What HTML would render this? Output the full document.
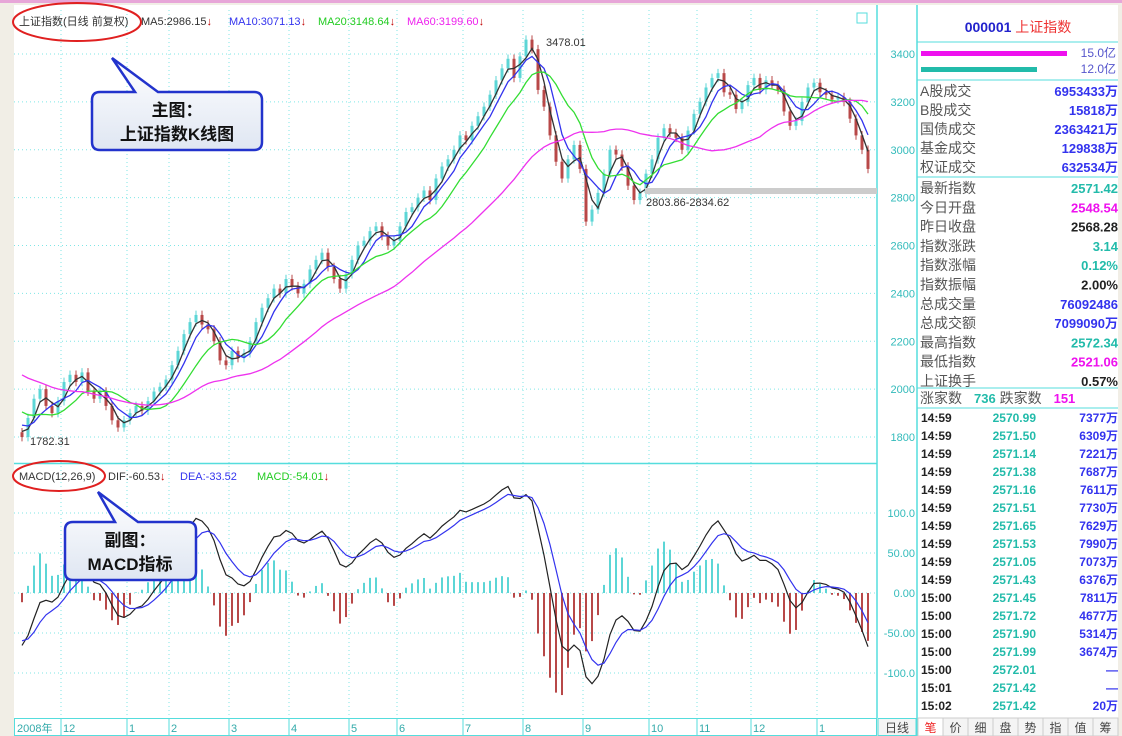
<!DOCTYPE html>
<html><head><meta charset="utf-8">
<style>
body{margin:0;background:#f1eee6;width:1122px;height:736px;overflow:hidden;font-family:"Liberation Sans","Noto Sans CJK SC",sans-serif}
svg{position:absolute;left:0;top:0}
text{font-family:"Liberation Sans","Noto Sans CJK SC",sans-serif}
</style></head>
<body>
<svg id="chart" width="1122" height="736" viewBox="0 0 1122 736">
<defs>
<linearGradient id="cg" x1="0" y1="0" x2="0" y2="1"><stop offset="0" stop-color="#ffffff"/><stop offset="1" stop-color="#dfe6f2"/></linearGradient>
<clipPath id="cpMain"><rect x="14" y="10" width="863" height="453"/></clipPath>
<clipPath id="cpMacd"><rect x="14" y="464" width="863" height="252"/></clipPath>
</defs>
<rect x="0" y="0" width="1122" height="3" fill="#e7a6d8"/>
<rect x="14" y="5" width="1104" height="713" fill="#ffffff"/>
<rect x="14.5" y="718.5" width="862" height="17" fill="#ffffff" stroke="#55dddd"/>
<rect x="878" y="718.5" width="38" height="17" fill="#f4f4f4" stroke="#55dddd"/>
<g id="grid"></g>
<g id="main" clip-path="url(#cpMain)"></g>
<g id="macd" clip-path="url(#cpMacd)"></g>
<g id="axes"></g>
<line x1="877" y1="5" x2="877" y2="718" stroke="#55dddd" stroke-width="1.5"/>
<line x1="917" y1="5" x2="917" y2="736" stroke="#55dddd" stroke-width="1.5"/>
<line x1="14" y1="463.5" x2="877" y2="463.5" stroke="#55dddd" stroke-width="1.5"/>
<text x="897" y="732" font-size="12" fill="#444" text-anchor="middle">日线</text>
<g id="tabs"></g>
<text x="19" y="25" font-size="11" fill="#333">上证指数(日线 前复权)</text>
<ellipse cx="77" cy="22" rx="64" ry="19" fill="none" stroke="#e02020" stroke-width="2"/>
<text x="141" y="25" font-size="11" fill="#333">MA5:2986.15<tspan fill="#c00000">↓</tspan></text>
<text x="229" y="25" font-size="11" fill="#3333ee">MA10:3071.13<tspan fill="#c00000">↓</tspan></text>
<text x="318" y="25" font-size="11" fill="#22cc22">MA20:3148.64<tspan fill="#c00000">↓</tspan></text>
<text x="407" y="25" font-size="11" fill="#ee22ee">MA60:3199.60<tspan fill="#c00000">↓</tspan></text>
<rect x="857" y="13" width="10" height="10" fill="none" stroke="#55dddd"/>
<text x="19" y="480" font-size="11" fill="#333">MACD(12,26,9)</text>
<ellipse cx="59" cy="476" rx="46" ry="15" fill="none" stroke="#e02020" stroke-width="2"/>
<text x="108" y="480" font-size="11" fill="#333">DIF:-60.53<tspan fill="#c00000">↓</tspan></text>
<text x="180" y="480" font-size="11" fill="#3333ee">DEA:-33.52</text>
<text x="257" y="480" font-size="11" fill="#22cc22">MACD:-54.01<tspan fill="#c00000">↓</tspan></text>
<text x="546" y="46" font-size="11" fill="#333">3478.01</text>
<text x="30" y="445" font-size="11" fill="#333">1782.31</text>
<rect x="645" y="188" width="232" height="6" fill="#cccccc"/>
<text x="646" y="206" font-size="11" fill="#333">2803.86-2834.62</text>
<g>
<path d="M112,58 L135,92 L100,92 Q92,92 92,100 L92,142 Q92,150 100,150 L254,150 Q262,150 262,142 L262,100 Q262,92 254,92 L158,92 Z" fill="url(#cg)" stroke="#2233cc" stroke-width="2.5"/>
<text x="177" y="116" font-size="17" font-weight="bold" fill="#111" text-anchor="middle" font-family="Liberation Serif,Noto Serif CJK SC,serif">主图：</text>
<text x="177" y="140" font-size="17" font-weight="bold" fill="#111" text-anchor="middle" font-family="Liberation Serif,Noto Serif CJK SC,serif">上证指数K线图</text>
</g>
<g>
<path d="M98,492 L115,522 L73,522 Q65,522 65,530 L65,572 Q65,580 73,580 L188,580 Q196,580 196,572 L196,530 Q196,522 188,522 L138,522 Z" fill="url(#cg)" stroke="#2233cc" stroke-width="2.5"/>
<text x="130" y="546" font-size="17" font-weight="bold" fill="#111" text-anchor="middle" font-family="Liberation Serif,Noto Serif CJK SC,serif">副图：</text>
<text x="130" y="570" font-size="17" font-weight="bold" fill="#111" text-anchor="middle" font-family="Liberation Serif,Noto Serif CJK SC,serif">MACD指标</text>
</g>
<g id="side"></g>
</svg>
<script>
const closes=[1800,1880,1960,2000,1930,1900,1950,2030,2060,2030,2070,1990,1960,1990,1930,1870,1840,1870,1900,1930,1910,1950,1990,2010,2040,2100,2160,2230,2280,2310,2270,2250,2200,2120,2100,2160,2130,2150,2200,2280,2340,2380,2420,2400,2460,2430,2400,2440,2500,2540,2570,2510,2460,2420,2480,2540,2600,2620,2660,2680,2640,2600,2620,2680,2740,2760,2800,2830,2790,2880,2930,2960,3000,3060,3040,3100,3140,3180,3230,3290,3340,3380,3300,3390,3460,3420,3250,3180,3060,2950,2880,2960,3020,2920,2700,2750,2820,2900,3000,2980,2930,2850,2790,2820,2900,2960,3050,3090,3070,3050,3000,3080,3150,3200,3260,3300,3320,3240,3230,3170,3200,3270,3300,3250,3290,3270,3250,3160,3100,3120,3200,3260,3280,3240,3230,3210,3220,3200,3130,3060,3000,2920];
const history=[2300,2280,2250,2260,2220,2200,2180,2150,2160,2120,2100,2130,2150,2120,2100,2080,2060,2050,2070,2040,2020,2000,1980,1960,1940,1920,1900,1880,1850,1820];
const priceTicks=[3400,3200,3000,2800,2600,2400,2200,2000,1800];
const macdTicks=[100,50,0,-50,-100];
const macdTickLabels=["100.0","50.00","0.00","-50.00","-100.0"];
const months=["12","1","2","3","4","5","6","7","8","9","10","11","12","1"];
const monthIdx=[7,18,25,35,45,55,63,74,84,94,105,113,122,133];
const sideLabels=["A股成交","B股成交","国债成交","基金成交","权证成交"];
const sideValues=["6953433万","15818万","2363421万","129838万","632534万"];
const quoteLabels=["最新指数","今日开盘","昨日收盘","指数涨跌","指数涨幅","指数振幅","总成交量","总成交额","最高指数","最低指数","上证换手"];
const quoteValues=["2571.42","2548.54","2568.28","3.14","0.12%","2.00%","76092486","7099090万","2572.34","2521.06","0.57%"];
const quoteColors=["#22bbaa","#ee11ee","#222","#22bbaa","#22bbaa","#222","#3333ee","#3333ee","#22bbaa","#ee11ee","#222"];
const tickTimes=["14:59","14:59","14:59","14:59","14:59","14:59","14:59","14:59","14:59","14:59","15:00","15:00","15:00","15:00","15:00","15:01","15:02"];
const tickPrices=["2570.99","2571.50","2571.14","2571.38","2571.16","2571.51","2571.65","2571.53","2571.05","2571.43","2571.45","2571.72","2571.90","2571.99","2572.01","2571.42","2571.42"];
const tickVols=["7377万","6309万","7221万","7687万","7611万","7730万","7629万","7990万","7073万","6376万","7811万","4677万","5314万","3674万","—","—","20万"];
const tabs=["笔","价","细","盘","势","指","值","筹"];

const NS="http://www.w3.org/2000/svg";
function mk(tag,attrs,parent,txt){const e=document.createElementNS(NS,tag);for(const k in attrs)e.setAttribute(k,attrs[k]);if(txt!==undefined)e.textContent=txt;parent.appendChild(e);return e;}
const xS=i=>22+i*6;
const yP=p=>54+(3400-p)*0.2394;
const yM=v=>593-v*0.8;
const grid=document.getElementById('grid'),main=document.getElementById('main'),macd=document.getElementById('macd'),axes=document.getElementById('axes'),side=document.getElementById('side'),tabG=document.getElementById('tabs');

priceTicks.forEach(p=>{const l=mk('line',{x1:14,x2:877,y1:yP(p),y2:yP(p),stroke:'#7fe6e6','stroke-dasharray':'1,3'},grid);

const t=mk('text',{x:915,y:yP(p)+4,'font-size':11,fill:'#33bbbb','text-anchor':'end'},axes,String(p));
});
macdTicks.forEach((v,k)=>{const l=mk('line',{x1:14,x2:877,y1:yM(v),y2:yM(v),stroke:'#7fe6e6','stroke-dasharray':'1,3'},grid);

const t=mk('text',{x:915,y:yM(v)+4,'font-size':11,fill:'#33bbbb','text-anchor':'end'},axes,macdTickLabels[k]);
});
monthIdx.forEach((i,k)=>{const x=xS(i)-3;
const l=mk('line',{x1:x,x2:x,y1:10,y2:718,stroke:'#7fe6e6','stroke-dasharray':'1,3'},grid);

mk('line',{x1:x,x2:x,y1:719,y2:735,stroke:'#55dddd'},axes);
const t=mk('text',{x:x+2,y:732,'font-size':11,fill:'#33aaaa'},axes,months[k]);
});
const yl=mk('text',{x:17,y:732,'font-size':11,fill:'#33aaaa'},axes,'2008年');


const all=history.concat(closes);
const H=history.length;
closes.forEach((c,i)=>{const o=all[H+i-1];const up=c>=o;const col=up?'#5cd6d6':'#b84848';
const hi=Math.max(o,c)+18,lo=Math.min(o,c)-18;const x=xS(i);
const g=mk('g',{},main);
mk('line',{x1:x,x2:x,y1:yP(hi),y2:yP(lo),stroke:col,'stroke-width':1},g);
mk('rect',{x:x-1.5,y:Math.min(yP(o),yP(c)),width:3,height:Math.max(1,Math.abs(yP(o)-yP(c))),fill:col},g);});

function ma(n){return closes.map((c,i)=>{let s=0;for(let k=0;k<n;k++)s+=all[H+i-k];return s/n;});}
[[3,'#333333','ma5-line'],[5,'#3333ee','ma10-line'],[10,'#33dd33','ma20-line'],[30,'#ee33ee','ma60-line']].forEach(([n,col,name])=>{
const v=ma(n);const p=mk('path',{d:v.map((y,i)=>(i?'L':'M')+xS(i)+','+yP(y).toFixed(1)).join(''),fill:'none',stroke:col,'stroke-width':1.3},main);
});

function ema(arr,n){const a=2/(n+1);const r=[];arr.forEach((v,i)=>r.push(i?r[i-1]+a*(v-r[i-1]):v));return r;}
const e1=ema(all,6),e2=ema(all,13);const dif=all.map((v,i)=>e1[i]-e2[i]);const dea=ema(dif,5);
closes.forEach((c,i)=>{const j=H+i;const m=2*(dif[j]-dea[j]);const x=xS(i);
const b=mk('rect',{x:x-1,y:Math.min(yM(0),yM(m)),width:2,height:Math.abs(yM(m)-yM(0)),fill:m>=0?'#5cd6d6':'#b84848'},macd);
});
const dp=mk('path',{d:closes.map((c,i)=>(i?'L':'M')+xS(i)+','+yM(dif[H+i]).toFixed(1)).join(''),fill:'none',stroke:'#222','stroke-width':1.2},macd);

const ep=mk('path',{d:closes.map((c,i)=>(i?'L':'M')+xS(i)+','+yM(dea[H+i]).toFixed(1)).join(''),fill:'none',stroke:'#3333ee','stroke-width':1.2},macd);


const hd=mk('text',{x:1018,y:32,'font-size':14,'text-anchor':'middle'},side);
hd.innerHTML='<tspan fill="#2222cc" font-weight="bold">000001</tspan><tspan fill="#ee3333"> 上证指数</tspan>';

mk('line',{x1:917,x2:1118,y1:42,y2:42,stroke:'#55dddd'},side);
const b1=mk('rect',{x:921,y:51,width:146,height:5,fill:'#ee11ee'},side);
const b2=mk('rect',{x:921,y:67,width:116,height:5,fill:'#22bbaa'},side);
mk('text',{x:1116,y:57,'font-size':12,fill:'#5555cc','text-anchor':'end'},side,'15.0亿');
mk('text',{x:1116,y:73,'font-size':12,fill:'#5555cc','text-anchor':'end'},side,'12.0亿');
mk('line',{x1:917,x2:1118,y1:80,y2:80,stroke:'#55dddd'},side);
sideLabels.forEach((l,k)=>{const y=96+k*19;
const a=mk('text',{x:920,y:y,'font-size':14,fill:'#555'},side,l);
const b=mk('text',{x:1118,y:y,'font-size':13,fill:'#3333ee','font-weight':'bold','text-anchor':'end'},side,sideValues[k]);});
mk('line',{x1:917,x2:1118,y1:177,y2:177,stroke:'#55dddd'},side);
quoteLabels.forEach((l,k)=>{const y=193+k*19.3;
const a=mk('text',{x:920,y:y,'font-size':14,fill:'#555'},side,l);
const b=mk('text',{x:1118,y:y,'font-size':13,fill:quoteColors[k],'font-weight':'bold','text-anchor':'end'},side,quoteValues[k]);});
mk('line',{x1:917,x2:1118,y1:388,y2:388,stroke:'#55dddd'},side);
const ad=mk('text',{x:920,y:403,'font-size':14,fill:'#555'},side);
ad.innerHTML='涨家数<tspan fill="#22bbaa" font-size="13" font-weight="bold" dx="12">736</tspan> 跌家数<tspan fill="#ee11ee" font-size="13" font-weight="bold" dx="12">151</tspan>';

mk('line',{x1:917,x2:1118,y1:408,y2:408,stroke:'#55dddd'},side);
tickTimes.forEach((t,k)=>{const y=422+k*18;
const a=mk('text',{x:921,y:y,'font-size':12,fill:'#222','font-weight':'bold'},side,t);
const b=mk('text',{x:1036,y:y,'font-size':12,fill:'#22bbaa','font-weight':'bold','text-anchor':'end'},side,tickPrices[k]);
const c=mk('text',{x:1118,y:y,'font-size':12,fill:'#3333ee','font-weight':'bold','text-anchor':'end'},side,tickVols[k]);});
tabs.forEach((t,k)=>{const x=918+k*25;
const r=mk('rect',{x:x,y:718,width:25,height:18,fill:k?'#f4f4f4':'#ffffff',stroke:'#cccccc'},tabG);

const tx=mk('text',{x:x+12.5,y:732,'font-size':12,fill:k?'#444':'#ee2222','text-anchor':'middle'},tabG,t);
});
</script>
</body></html>
